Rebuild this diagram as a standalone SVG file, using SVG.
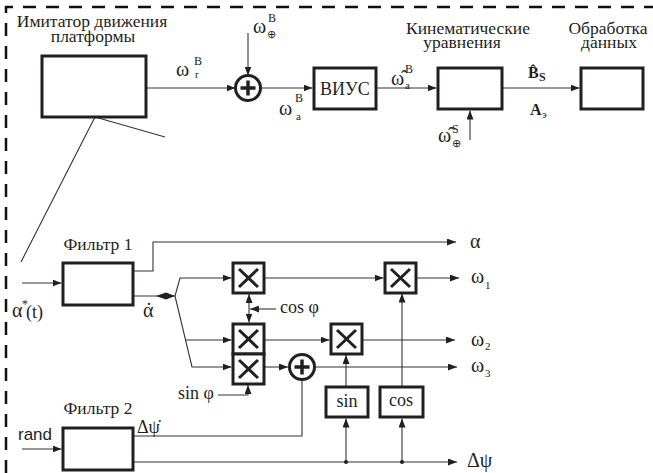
<svg xmlns="http://www.w3.org/2000/svg" width="653" height="473" viewBox="0 0 653 473">
<style>
.box{fill:#fff;stroke:#231f20;stroke-width:3}
.ru{font-family:"Liberation Serif","Times New Roman",serif;font-size:17.5px;fill:#231f20}
.s18{font-family:"Liberation Serif","Times New Roman",serif;font-size:18px;fill:#231f20}
.g{font-family:"Liberation Serif","Times New Roman",serif;font-size:20px;fill:#231f20}
.sp{font-family:"Liberation Serif","Times New Roman",serif;font-size:12px;fill:#231f20}
.sb{font-family:"Liberation Serif","Times New Roman",serif;font-size:11px;fill:#231f20}
.bd{font-family:"Liberation Serif","Times New Roman",serif;font-size:16px;font-weight:bold;fill:#231f20}
.bds{font-family:"Liberation Serif","Times New Roman",serif;font-size:12px;font-weight:bold;fill:#231f20}
.sans{font-family:"Liberation Sans",Arial,sans-serif;font-size:17px;fill:#231f20}
</style>
<defs>
<marker id="ah" markerUnits="userSpaceOnUse" markerWidth="9" markerHeight="7" refX="9" refY="3.5" orient="auto-start-reverse">
<path d="M0,0 L9,3.5 L0,7 z" fill="#231f20"/>
</marker>
<g id="mulShape">
<rect class="box" x="0" y="0" width="31" height="30"/>
<path d="M6,6 L25,24 M25,6 L6,24" stroke="#231f20" stroke-width="3" fill="none"/>
</g>
<g id="sumShape">
<circle cx="0" cy="0" r="12.5" fill="#fff" stroke="#231f20" stroke-width="3"/>
<path d="M-7.5,0 H7.5 M0,-7.5 V7.5" stroke="#231f20" stroke-width="3.5" fill="none"/>
</g>
</defs>

<path d="M6,473 V7 H653" fill="none" stroke="#111" stroke-width="2.5" stroke-dasharray="13 10"/>

<g id="connectors" fill="none" stroke="#333" stroke-width="1.1">
<path d="M95,117 L21,262 M95,117 L165,137"/>
<path marker-end="url(#ah)" d="M146,88 H235.5"/>
<path marker-end="url(#ah)" d="M248,33 V75.5"/>
<path marker-end="url(#ah)" d="M260.5,88 H312.5"/>
<path marker-end="url(#ah)" d="M376,88 H436.5"/>
<path marker-end="url(#ah)" d="M502,88 H579.5"/>
<path marker-end="url(#ah)" d="M470,140 V110.5"/>

<path marker-end="url(#ah)" d="M22,283 H61.5"/>
<path marker-end="url(#ah)" d="M133,271 H153 V242 H456"/>
<path d="M133,296 H175"/>
<polygon points="156,296 166,292.5 175,296 166,299.5" fill="#231f20" stroke="none"/>
<path marker-end="url(#ah)" d="M175,296 L180,278 H231.5"/>
<path marker-end="url(#ah)" d="M175,296 L192,367 H231.5"/>
<path marker-end="url(#ah)" d="M185.5,340 H231.5"/>
<path marker-start="url(#ah)" marker-end="url(#ah)" d="M249,294 V322.5"/>
<path marker-end="url(#ah)" d="M276,309 H250"/>
<path marker-end="url(#ah)" d="M264.5,278 H383.5"/>
<path marker-end="url(#ah)" d="M416.5,278 H459"/>
<path marker-end="url(#ah)" d="M264.5,340 H329.5"/>
<path marker-end="url(#ah)" d="M362.5,340 H455"/>
<path marker-end="url(#ah)" d="M264.5,367 H288"/>
<path marker-end="url(#ah)" d="M314.5,367 H457"/>
<path marker-end="url(#ah)" d="M218,395 H248 V385"/>
<path d="M302,379.5 V436 H133"/>
<path marker-end="url(#ah)" d="M22,449 H61.5"/>
<path marker-end="url(#ah)" d="M133,462 H457"/>
<path marker-end="url(#ah)" d="M346,462 V418.5"/>
<path marker-end="url(#ah)" d="M402,462 V418.5"/>
<path marker-end="url(#ah)" d="M346,387 V355"/>
<path marker-end="url(#ah)" d="M402,387 V293.5"/>
<circle cx="346" cy="462" r="2" fill="#231f20" stroke="none"/>
<circle cx="402" cy="462" r="2" fill="#231f20" stroke="none"/>
</g>

<g id="imitator">
<rect class="box" x="42" y="56" width="104" height="61"/>
<text class="ru" x="92" y="27" text-anchor="middle">Имитатор движения</text>
<text class="ru" x="93" y="42" text-anchor="middle">платформы</text>
</g>
<g id="sum1" transform="translate(248,88)"><use href="#sumShape"/></g>
<g id="vius">
<rect class="box" x="314" y="68" width="62" height="41"/>
<text class="s18" x="345" y="95" text-anchor="middle">ВИУС</text>
</g>
<g id="kinematics">
<rect class="box" x="438" y="68" width="64" height="41"/>
<text class="ru" x="468" y="34" text-anchor="middle">Кинематические</text>
<text class="ru" x="462" y="48" text-anchor="middle">уравнения</text>
</g>
<g id="processing">
<rect class="box" x="581" y="68" width="62" height="41"/>
<text class="ru" x="608" y="34" text-anchor="middle">Обработка</text>
<text class="ru" x="609" y="48" text-anchor="middle">данных</text>
</g>

<g id="labels-top">
<text class="g" x="176" y="76">ω</text><text class="sp" x="194" y="65">B</text><text class="sb" x="195" y="78">r</text>
<text class="g" x="253" y="33">ω</text><text class="sp" x="268" y="22">B</text><text class="sb" x="267" y="38">⊕</text>
<text class="g" x="279" y="115">ω</text><text class="sp" x="295" y="102">B</text><text class="sb" x="296" y="120">a</text>
<text class="g" x="391" y="85">ω̂</text><text class="sp" x="405" y="73">B</text><text class="sb" x="405" y="89">a</text>
<text class="g" x="438" y="142">ω̂</text><text class="sp" x="452" y="133">S</text><text class="sb" x="452" y="147">⊕</text>
<text class="bd" x="528" y="78">B̂</text><text class="bds" x="539" y="81">S</text>
<text class="bd" x="530" y="115">A</text><text class="sb" x="542" y="118">э</text>
</g>

<g id="filter1">
<rect class="box" x="63" y="263" width="70" height="42"/>
<text class="ru" x="98" y="250" text-anchor="middle">Фильтр 1</text>
</g>
<g id="filter2">
<rect class="box" x="63" y="428" width="70" height="42"/>
<text class="ru" x="98" y="414" text-anchor="middle">Фильтр 2</text>
</g>
<g id="mul1" transform="translate(233,263)"><use href="#mulShape"/></g>
<g id="mul2" transform="translate(233,324)"><use href="#mulShape"/></g>
<g id="mul3" transform="translate(233,354)"><use href="#mulShape"/></g>
<g id="mul4" transform="translate(331,324)"><use href="#mulShape"/></g>
<g id="mul5" transform="translate(385,263)"><use href="#mulShape"/></g>
<g id="sum2" transform="translate(302,367)"><use href="#sumShape"/></g>
<g id="sinbox">
<rect class="box" x="326" y="387" width="42" height="30"/>
<text class="s18" x="347" y="407" text-anchor="middle">sin</text>
</g>
<g id="cosbox">
<rect class="box" x="380" y="387" width="43" height="30"/>
<text class="s18" x="401" y="406" text-anchor="middle">cos</text>
</g>

<g id="labels-bottom">
<text class="g" x="12" y="317">α</text><text class="sp" x="22" y="308">*</text><text class="s18" x="26" y="318">(t)</text>
<text class="g" x="143" y="317">α</text><text class="s18" x="149" y="305" text-anchor="middle">.</text>
<text class="g" x="470" y="248">α</text>
<text class="s18" x="280" y="313">cos φ</text>
<text class="s18" x="178" y="399">sin φ</text>
<text class="g" x="471" y="283">ω</text><text class="sb" x="485" y="289">1</text>
<text class="g" x="471" y="346">ω</text><text class="sb" x="485" y="350">2</text>
<text class="g" x="471" y="372">ω</text><text class="sb" x="485" y="377">3</text>
<text class="sans" x="18" y="440">rand</text>
<text class="s18" x="137" y="433">Δψ̇</text>
<text class="g" x="467" y="467">Δψ</text>
</g>
</svg>
